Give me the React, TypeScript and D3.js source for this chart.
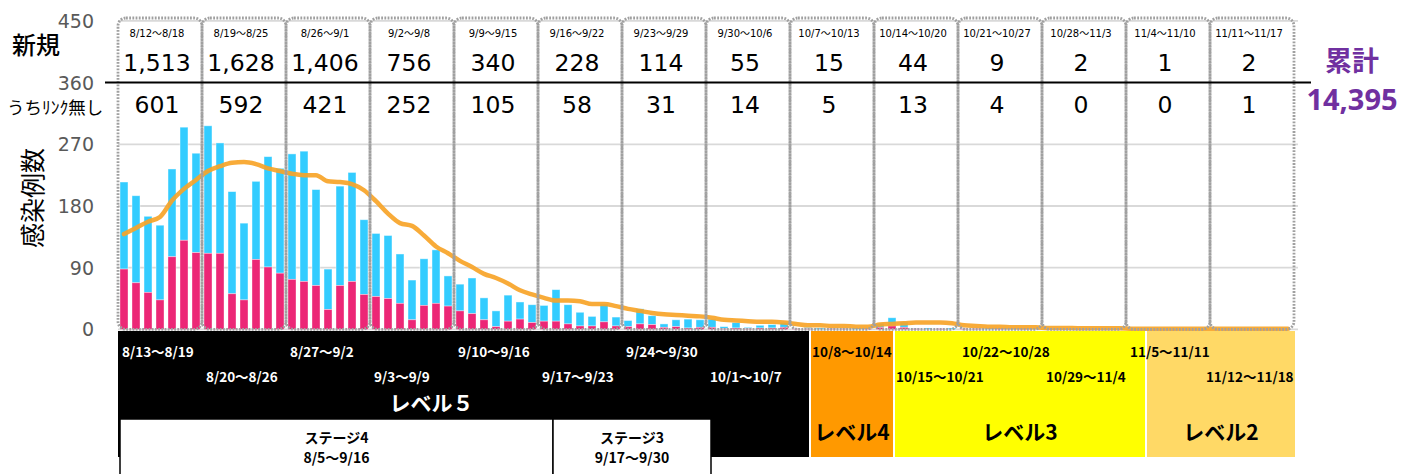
import * as d3 from 'd3';

// daily counts from 8/12 (reading off the reference)
const START = new Date(2021, 7, 12);

const totalCases = [
  215, 195, 165, 152, 234, 295, 257,
  297, 272, 201, 155, 216, 252, 235,
  256, 260, 204, 88, 209, 229, 160,
  140, 137, 110, 72, 103, 116, 78,
  66, 75, 46, 27, 50, 40, 36,
  35, 58, 36, 25, 19, 37, 18,
  13, 30, 20, 8, 14, 15, 14,
  15, 4, 10, 3, 6, 7, 10,
  2, 3, 2, 2, 2, 2, 2,
  9, 17, 11, 2, 2, 1, 2,
  2, 1, 1, 2, 1, 1, 1,
  0, 1, 0, 0, 1, 0, 0,
  0, 0, 0, 1, 0, 0, 0,
  0, 1, 0, 0, 0, 1, 0,
];

const unlinkedCases = [
  88, 68, 54, 43, 106, 130, 112,
  111, 111, 52, 43, 102, 91, 82,
  73, 70, 64, 29, 64, 70, 51,
  48, 45, 38, 14, 35, 38, 34,
  27, 23, 14, 4, 12, 15, 10,
  12, 12, 8, 5, 5, 11, 5,
  4, 8, 7, 3, 4, 2, 3,
  3, 1, 2, 1, 2, 2, 3,
  1, 1, 0, 1, 1, 0, 1,
  3, 5, 3, 1, 0, 1, 0,
  1, 1, 0, 1, 0, 1, 0,
  0, 0, 0, 0, 0, 0, 0,
  0, 0, 0, 0, 0, 0, 0,
  0, 1, 0, 0, 0, 0, 0,
];

const movingAvg = [
  139, 148, 157, 164, 188, 205, 218,
  231, 238, 243, 244, 241, 235, 231,
  227, 225, 225, 216, 215, 212, 203,
  187, 169, 155, 151, 137, 121, 111,
  100, 91, 81, 75, 67, 57, 51,
  46, 42, 42, 41, 37, 37, 34,
  30, 27, 24, 22, 21, 20, 19,
  17, 14, 13, 12, 11, 11, 10,
  8, 6, 6, 5, 5, 4, 4,
  7, 8, 9, 10, 10, 10, 9,
  6, 5, 4, 4, 3, 3, 3,
  2, 2, 2, 1.5, 1.5, 1.5, 1.5,
  1, 1, 1, 1, 1, 1, 1,
  1, 1, 1, 1, 1, 1, 1,
];

const weekRanges = [
  '8/12〜8/18', '8/19〜8/25', '8/26〜9/1', '9/2〜9/8', '9/9〜9/15', '9/16〜9/22', '9/23〜9/29',
  '9/30〜10/6', '10/7〜10/13', '10/14〜10/20', '10/21〜10/27', '10/28〜11/3', '11/4〜11/10', '11/11〜11/17',
];
const weekNew = [1513, 1628, 1406, 756, 340, 228, 114, 55, 15, 44, 9, 2, 1, 2];
const weekUnlinked = [601, 592, 421, 252, 105, 58, 31, 14, 5, 13, 4, 0, 0, 1];
const cumulative = 14395;

const yTicks = [0, 90, 180, 270, 360, 450];

const periodLabels = [
  '8/13〜8/19', '8/20〜8/26', '8/27〜9/2', '9/3〜9/9', '9/10〜9/16', '9/17〜9/23', '9/24〜9/30',
  '10/1〜10/7', '10/8〜10/14', '10/15〜10/21', '10/22〜10/28', '10/29〜11/4', '11/5〜11/11', '11/12〜11/18',
];

const levelNames = ['レベル５', 'レベル4', 'レベル3', 'レベル2'];
const levelStarts = ['8/12', '10/8', '10/15', '11/5'];
const levelColours = ['#000000', '#FF9900', '#FFFF00', '#FFD966'];

const stageNames = ['ステージ4', 'ステージ3'];
const stageRanges = ['8/5〜9/16', '9/17〜9/30'];

const W = 1403;
const H = 474;
const BLUE = '#33CCFF';
const PINK = '#EC2776';
const ORANGE = '#F7A428';
const PURPLE = '#7030A0';
const JP = '"Noto Sans CJK JP", "Noto Sans", sans-serif';
const NUM = '"DejaVu Sans", "Noto Sans CJK JP", sans-serif';

const dayIndex = (md: string) => {
  const [m, d] = md.split('/').map(Number);
  return d3.timeDay.count(START, new Date(2021, m - 1, d));
};

export default function App() {
  const nDays = totalCases.length;
  const x = d3.scaleLinear().domain([0, nDays]).range([118, 1294]);
  const y = d3.scaleLinear().domain([0, 450]).range([329.4, 20.9]);
  const step = x(1) - x(0);
  const fmt = d3.format(',');

  const line = d3.line<number>()
    .x((_, i) => x(i + 0.5))
    .y(v => y(v))
    .curve(d3.curveMonotoneX);

  // level bands below the axis
  const bandTop = 331;
  const bandBottom = 457;
  const levelDays = levelStarts.map(dayIndex);
  const levelBands = levelNames.map((name, i) => {
    const left = i === 0 ? x(0) : x(levelDays[i]) + 8 + 1;
    const right = i < levelNames.length - 1 ? x(levelDays[i + 1]) + 8 - 1 : x(nDays) + 1;
    return { name, left, right, colour: levelColours[i] };
  });

  // stage boxes
  const stageTop = 419;
  const stageLefts = stageRanges.map((r, i) => i === 0 ? x(0) + 2 : x(dayIndex(r.split('〜')[0])) + 3);
  const stageBoxes = stageRanges.map((r, i) => {
    const left = stageLefts[i];
    const right = i < stageRanges.length - 1 ? stageLefts[i + 1] : x(dayIndex(r.split('〜')[1]) + 1) - 7;
    return { name: stageNames[i], range: r, left, right };
  });

  const labelFont = 13.5;
  const estWidth = (s: string) => s.replace('〜', '').length * 0.56 * labelFont + labelFont;

  return (
    <svg width={W} height={H} style={{ position: 'absolute', left: 0, top: 0, background: '#fff' }}>
      {/* grid */}
      {yTicks.filter(t => t !== 360).map(t => (
        <line key={t} x1={x(0)} x2={x(nDays) + 4} y1={y(t)} y2={y(t)} stroke="#D9D9D9" strokeWidth={1.8} />
      ))}

      {/* y tick labels */}
      {yTicks.map(t => (
        <text key={t} x={94} y={y(t) + 7} textAnchor="end" fontFamily={NUM} fontSize={19} fill="#595959">{t}</text>
      ))}

      {/* bars */}
      {totalCases.map((tot, d) => {
        const unl = unlinkedCases[d];
        return (
          <g key={d}>
            <rect x={x(d) + 2} y={y(tot)} width={step - 4} height={y(unl) - y(tot)} fill={BLUE}
              stroke="rgba(255,255,255,0.55)" strokeWidth={0.8} />
            <rect x={x(d) + 2} y={y(unl)} width={step - 4} height={y(0) - y(unl)} fill={PINK}
              stroke="rgba(255,255,255,0.45)" strokeWidth={0.8} />
          </g>
        );
      })}

      {/* 7-day average */}
      <path d={line(movingAvg) ?? ''} fill="none" stroke={ORANGE} strokeWidth={4.5} strokeOpacity={0.92}
        strokeLinejoin="round" strokeLinecap="round" />

      {/* weekly dotted boxes */}
      {weekRanges.map((_, i) => (
        <rect key={i} x={x(7 * i)} y={18} width={x(7) - x(0)} height={y(0) - 18} rx={8}
          fill="none" stroke="#A0A0A0" strokeWidth={2.8} strokeDasharray="1.8,1.4" />
      ))}

      {/* 360 divider */}
      <line x1={105} x2={1311} y1={y(360)} y2={y(360)} stroke="#000" strokeWidth={2} />

      {/* weekly numbers */}
      {weekRanges.map((r, i) => {
        const cx = (x(7 * i) + x(7 * i + 7)) / 2 - 3;
        return (
          <g key={r}>
            <text x={cx} y={37} textAnchor="middle" fontFamily={NUM} fontSize={10} fill="#000">{r}</text>
            <text x={cx} y={71} textAnchor="middle" fontFamily={NUM} fontSize={23.5} fill="#000">{fmt(weekNew[i])}</text>
            <text x={cx} y={113} textAnchor="middle" fontFamily={NUM} fontSize={23.5} fill="#000">{fmt(weekUnlinked[i])}</text>
          </g>
        );
      })}

      {/* row labels */}
      <text x={12} y={54} fontFamily={JP} fontSize={24} fontWeight={500} fill="#000">新規</text>
      <text x={7} y={114} fontFamily={JP} fontSize={17.5} fill="#000">うちﾘﾝｸ無し</text>
      <text transform={`translate(42,${198}) rotate(-90)`} textAnchor="middle" fontFamily={JP} fontSize={25}
        fill="#000">感染例数</text>

      {/* cumulative */}
      <text x={1352} y={71} textAnchor="middle" fontFamily={JP} fontSize={27} fontWeight={700} fill={PURPLE}>累計</text>
      <text x={1352} y={110} textAnchor="middle" fontFamily={'"Noto Sans", sans-serif'} fontSize={29} fontWeight={700}
        fill={PURPLE}>{fmt(cumulative)}</text>

      {/* level bands */}
      {levelBands.map(b => (
        <rect key={b.name} x={b.left} y={bandTop} width={b.right - b.left} height={bandBottom - bandTop} fill={b.colour} />
      ))}

      {/* stage boxes */}
      {stageBoxes.map(s => (
        <g key={s.name}>
          <rect x={s.left} y={stageTop} width={s.right - s.left} height={H - stageTop + 10} fill="#fff"
            stroke="#000" strokeWidth={1.5} />
          <text x={(s.left + s.right) / 2} y={443} textAnchor="middle" fontFamily={JP} fontSize={14}
            fontWeight={700} fill="#000">{s.name}</text>
          <text x={(s.left + s.right) / 2} y={463} textAnchor="middle" fontFamily={JP} fontSize={14}
            fontWeight={700} fill="#000">{s.range}</text>
        </g>
      ))}

      {/* level names */}
      {levelBands.map((b, i) => (
        i === 0 ? (
          <text key={b.name} x={(b.left + b.right) / 2 - 32} y={411} textAnchor="middle" fontFamily={JP} fontSize={21}
            fontWeight={700} fill="#fff">{b.name}</text>
        ) : (
          <text key={b.name} x={(b.left + b.right) / 2} y={440} textAnchor="middle" fontFamily={JP} fontSize={21}
            fontWeight={700} fill="#000">{b.name}</text>
        )
      ))}

      {/* period labels inside bands */}
      {periodLabels.map((p, i) => {
        const start = dayIndex(p.split('〜')[0]);
        let li = 0;
        levelDays.forEach((ld, k) => { if (start >= ld) li = k; });
        const band = levelBands[li];
        let lx = x(start) - 8;
        // the short level bands push their first label inside
        if (li > 0 && li < levelBands.length - 1 && lx < band.left + 1) lx = band.left + 1;
        const wdt = estWidth(p);
        if (lx + wdt > x(nDays) + 1) lx = x(nDays) + 1 - wdt;
        return (
          <text key={p} x={lx} y={i % 2 === 0 ? 357 : 382} fontFamily={JP} fontSize={labelFont} fontWeight={700}
            fill={li === 0 ? '#fff' : '#000'}>{p}</text>
        );
      })}
    </svg>
  );
}
